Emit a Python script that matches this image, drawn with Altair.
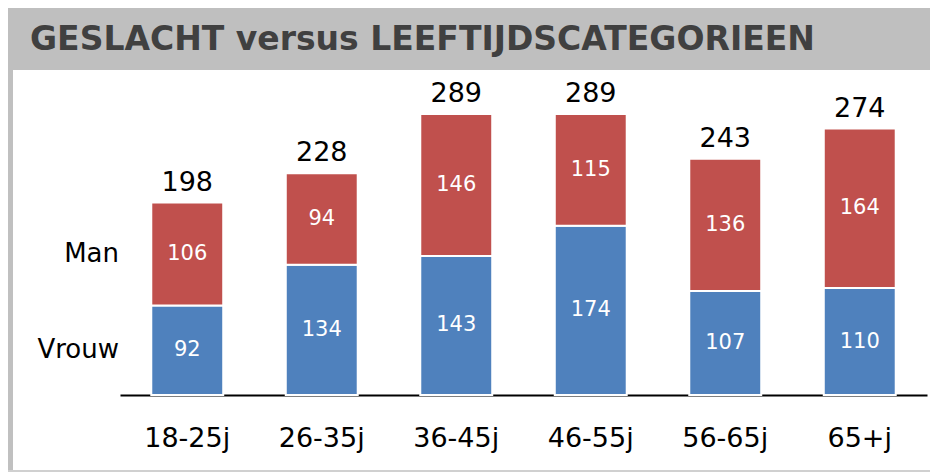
import altair as alt
import pandas as pd

categories = ["18-25j", "26-35j", "36-45j", "46-55j", "56-65j", "65+j"]
vrouw = [92, 134, 143, 174, 107, 110]
man = [106, 94, 146, 115, 136, 164]
series = ["Vrouw", "Man"]
colors = ["#4f81bd", "#c0504d"]
title_text = "GESLACHT versus LEEFTIJDSCATEGORIEEN"

FONT = "DejaVu Sans"

rows = []
for c, v, m in zip(categories, vrouw, man):
    rows.append({"cat": c, "serie": "Vrouw", "order": 0, "val": v, "start": 0, "end": v, "mid": v / 2})
    rows.append({"cat": c, "serie": "Man", "order": 1, "val": m, "start": v, "end": v + m, "mid": v + m / 2})
df = pd.DataFrame(rows)
tot = pd.DataFrame({"cat": categories, "total": [v + m for v, m in zip(vrouw, man)]})
legend_df = df[df["cat"] == categories[0]]

W, H = 807, 315
xs = alt.X("cat:N", sort=categories, title=None,
           scale=alt.Scale(paddingInner=0.465, paddingOuter=0.2325),
           axis=alt.Axis(labelAngle=0, ticks=False, domainColor="black", domainWidth=2,
                         labelFont=FONT, labelFontSize=27, labelColor="black",
                         labelPadding=51, labelBaseline="alphabetic", grid=False))
ys = alt.Y("start:Q", scale=alt.Scale(domain=[0, 324], nice=False), axis=None, title=None)

base = alt.Chart(df)

bars = base.mark_bar(stroke="white", strokeWidth=2).encode(
    x=xs, y=ys, y2="end:Q",
    color=alt.Color("serie:N", scale=alt.Scale(domain=series, range=colors), legend=None),
)

inner = base.mark_text(font=FONT, fontSize=21, color="white", baseline="middle").encode(
    x=alt.X("cat:N", sort=categories),
    y=alt.Y("mid:Q"),
    text="val:Q",
)

totals = alt.Chart(tot).mark_text(font=FONT, fontSize=27, color="black", baseline="alphabetic", dy=-12).encode(
    x=alt.X("cat:N", sort=categories),
    y=alt.Y("total:Q"),
    text="total:Q",
)

leg = alt.Chart(legend_df).mark_text(font=FONT, fontSize=26, color="black", align="right", baseline="middle").encode(
    x=alt.value(-1),
    y=alt.Y("mid:Q"),
    text="serie:N",
)

deco = alt.Chart(pd.DataFrame({"a": [0]}))
title_bg = deco.mark_rect(color="#bfbfbf").encode(
    x=alt.value(-112), x2=alt.value(810), y=alt.value(-72), y2=alt.value(-10))
left_border = deco.mark_rect(color="#c0c0c0").encode(
    x=alt.value(-112), x2=alt.value(-107), y=alt.value(-10), y2=alt.value(392))
bottom_border = deco.mark_rect(color="#d0d0d0").encode(
    x=alt.value(-112), x2=alt.value(810), y=alt.value(390), y2=alt.value(392))
title = deco.mark_text(font=FONT, fontSize=33, fontWeight="bold", color="#404040",
                       align="left", baseline="middle", text=title_text).encode(
    x=alt.value(-90), y=alt.value(-40))

chart = alt.layer(title_bg, left_border, bottom_border, title, bars, inner, totals, leg).resolve_scale(
    y="shared").properties(
    width=W, height=H,
    autosize=alt.AutoSizeParams(type="none"),
    padding={"left": 112, "top": 72, "right": 3, "bottom": 80},
).configure_view(stroke=None)

chart.save("out.html", embed_options={"renderer": "svg", "actions": False})
